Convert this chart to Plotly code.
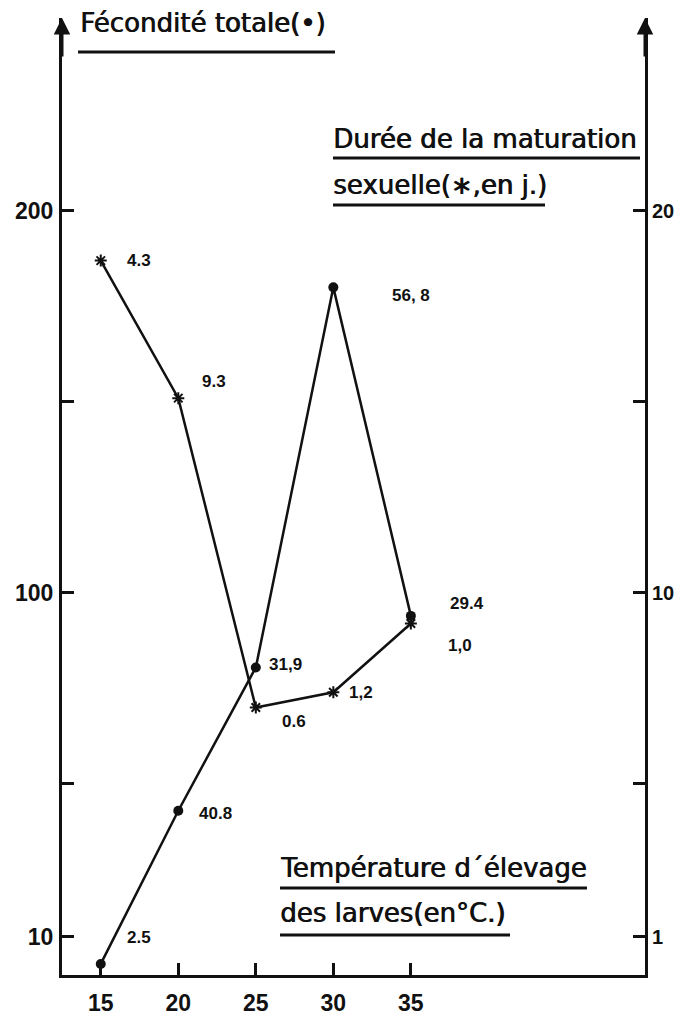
import plotly.graph_objects as go

# ---- data ----
temperature = [15, 20, 25, 30, 35]
fecondite = [2.9, 43, 80.5, 180, 94]          # left axis (dots)
fecondite_lbl = ["2.5", "40.8", "31,9", "56, 8", "29.4"]
maturation = [18.7, 15.1, 7.0, 7.4, 9.2]       # right axis (stars, days)
maturation_lbl = ["4.3", "9.3", "0.6", "1,2", "1,0"]

x_ticks = [15, 20, 25, 30, 35]
y_left_ticks = [10, 50, 100, 150, 200]
y_left_text = ["10", "", "100", "", "200"]
y_right_ticks = [1, 5, 10, 15, 20]
y_right_text = ["1", "", "10", "", "20"]

# the page body adds an 8px offset; the figure is sized to fit the window
OFF = 8
W, H = 683 - OFF, 1019 - OFF
ML, MR, MT, MB = 62 - OFF, 38, 18 - OFF, 44
PW, PH = W - ML - MR, H - MT - MB

def px(xr):
    return (xr - OFF - ML) / PW

def py(yr):
    return (H - MB - (yr - OFF)) / PH

BLACK = "#111111"
fig = go.Figure()

fig.add_trace(go.Scatter(
    x=temperature, y=fecondite, mode="lines+markers",
    line=dict(color=BLACK, width=2.5),
    marker=dict(symbol="circle", size=10, color=BLACK),
    showlegend=False, cliponaxis=False))

fig.add_trace(go.Scatter(
    x=temperature, y=maturation, mode="lines+markers", yaxis="y2",
    line=dict(color=BLACK, width=2.5),
    marker=dict(symbol="asterisk-open", size=10, color=BLACK, line=dict(width=2, color=BLACK)),
    showlegend=False, cliponaxis=False))

lblfont = dict(family="Liberation Sans", size=17, color=BLACK, weight="bold")
fec_off = [(38, 26), (37, -3), (30, 3), (78, -8), (56, 12)]
mat_off = [(38, 0), (36, 17), (38, -14), (28, 0), (49, -22)]
for xv, yv, t, (dx, dy) in zip(temperature, fecondite, fecondite_lbl, fec_off):
    fig.add_annotation(x=xv, y=yv, text=t, showarrow=False, xshift=dx, yshift=dy, font=lblfont)
for xv, yv, t, (dx, dy) in zip(temperature, maturation, maturation_lbl, mat_off):
    fig.add_annotation(x=xv, y=yv, yref="y2", text=t, showarrow=False, xshift=dx, yshift=dy, font=lblfont)

titlefont = dict(family="DejaVu Sans", size=26, color=BLACK,
                 shadow="0.8px 0px 0px #111111")
titles = [
    ("Fécondité totale(•)", 78, 23),
    ("Durée de la maturation", 331, 139),
    ("sexuelle(∗,en j.)", 331, 185),
    ("Température d´élevage", 278, 868),
    ("des larves(en°C.)", 278, 913),
]
for t, x0, y0 in titles:
    fig.add_annotation(x=px(x0), y=py(y0), xref="paper", yref="paper", text=t,
                       showarrow=False, xanchor="left", yanchor="middle", font=titlefont)

underlines = [(78, 335, 52), (333, 640, 158), (333, 545, 205), (280, 587, 888), (280, 510, 935)]
for x0, x1, y0 in underlines:
    fig.add_shape(type="line", xref="paper", yref="paper", x0=px(x0), x1=px(x1),
                  y0=py(y0), y1=py(y0), line=dict(color=BLACK, width=3))

# arrowheads at top of both vertical axes
for xp in (0, 1):
    fig.add_annotation(x=xp, y=1.0, xref="paper", yref="paper", ax=0, ay=40,
                       showarrow=True, arrowhead=2, arrowsize=1.1, arrowwidth=3,
                       arrowcolor=BLACK, text="")

tickfont = dict(family="Liberation Sans", size=23, color=BLACK, weight="bold")
rtickfont = dict(family="Liberation Sans", size=20, color=BLACK, weight="bold")
common = dict(ticks="inside", ticklen=12, tickwidth=3, tickcolor=BLACK, showline=True,
              linewidth=3, linecolor=BLACK, showgrid=False, zeroline=False,
              automargin=False)
fig.update_layout(
    width=W, height=H, margin=dict(l=ML, r=MR, t=MT, b=MB, autoexpand=False),
    paper_bgcolor="white", plot_bgcolor="white",
    xaxis=dict(range=[12.5, 50.1], tickvals=x_ticks, ticklabelstandoff=5,
               tickfont=tickfont, **common),
    yaxis=dict(range=[0, 250.5], tickvals=y_left_ticks, ticktext=y_left_text,
               ticklabelstandoff=1, tickfont=tickfont, **common),
    yaxis2=dict(range=[0, 25.05], overlaying="y", side="right", tickvals=y_right_ticks,
                ticktext=y_right_text, ticklabelstandoff=0, tickfont=rtickfont, **common),
)

fig.write_html("out.html")
